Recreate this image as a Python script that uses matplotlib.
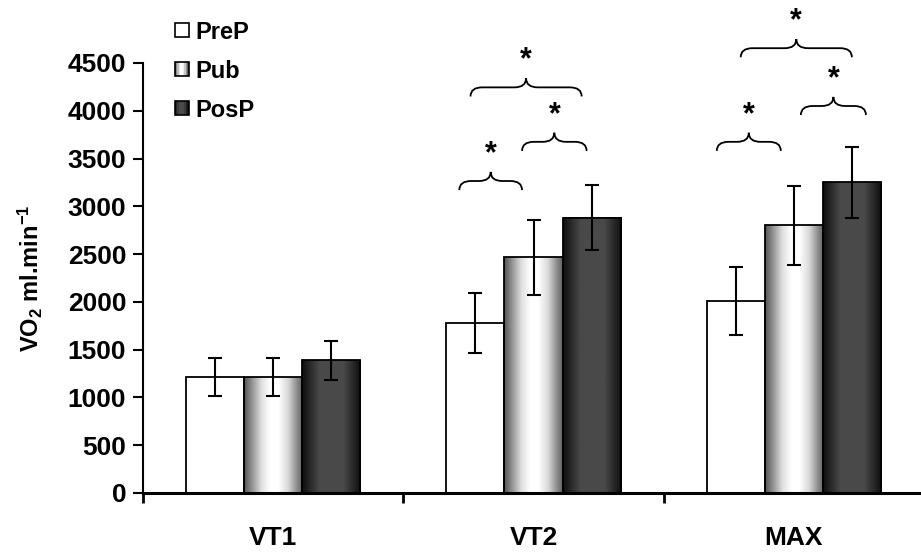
import numpy as np
import matplotlib
matplotlib.use("Agg")
import matplotlib.pyplot as plt
from matplotlib.path import Path
from matplotlib.patches import PathPatch, Rectangle
from matplotlib.legend_handler import HandlerBase

plt.rcParams['font.family'] = ['Liberation Sans', 'DejaVu Sans']
plt.rcParams['font.weight'] = 'bold'
plt.rcParams['mathtext.fontset'] = 'custom'
plt.rcParams['mathtext.rm'] = 'Liberation Sans:bold'
plt.rcParams['mathtext.bf'] = 'Liberation Sans:bold'
plt.rcParams['mathtext.default'] = 'bf'

# data
categories = ['VT1', 'VT2', 'MAX']
groups = ['PreP', 'Pub', 'PosP']
prep = [1210, 1780, 2010]
prep_err = [200, 315, 355]
pub = [1210, 2465, 2800]
pub_err = [200, 395, 410]
posp = [1390, 2880, 3250]
posp_err = [205, 340, 373]

# significance braces: (category index, left offset, right offset, base level)
brace_cat = [1, 1, 1, 2, 2, 2]
brace_left = [-0.285, -0.044, -0.242, -0.296, 0.027, -0.204]
brace_right = [-0.044, 0.204, 0.185, -0.05, 0.277, 0.223]
brace_level = [3170, 3580, 4150, 3580, 3955, 4560]


def profile(kind, n=200):
    t = np.linspace(0, 1, n)
    if kind == 'Pub':
        v = np.interp(t, [0, 0.12, 0.3, 0.45, 0.58, 0.75, 0.9, 1], [0.33, 0.55, 0.88, 1.0, 1.0, 0.85, 0.55, 0.38])
    elif kind == 'PosP':
        v = np.interp(t, [0, 0.12, 0.3, 0.7, 0.88, 1], [0.06, 0.15, 0.29, 0.29, 0.15, 0.06])
    else:
        v = np.ones(n)
    return v


class GradHandler(HandlerBase):
    def __init__(self, kind):
        super().__init__()
        self.kind = kind

    def create_artists(self, legend, orig_handle, xdescent, ydescent, width, height, fontsize, trans):
        arts = []
        v = profile(self.kind, 10)
        side = height
        for i in range(10):
            r = Rectangle((-xdescent + i * side / 10, -ydescent), side / 10, side,
                          facecolor=str(v[i]), edgecolor='none', transform=trans)
            arts.append(r)
        arts.append(Rectangle((-xdescent, -ydescent), side, side, facecolor='none',
                              edgecolor='black', lw=1.2, transform=trans))
        return arts


def brace(ax, x0, x1, y, h=190, r=0.045):
    xm = (x0 + x1) / 2
    ym = y + h * 0.5
    verts = [(x0, y), (x0, ym), (x0 + r, ym),
             (xm - r, ym), (xm, ym), (xm, y + h),
             (xm, ym), (xm + r, ym),
             (x1 - r, ym), (x1, ym), (x1, y)]
    codes = [Path.MOVETO, Path.CURVE3, Path.CURVE3,
             Path.LINETO, Path.CURVE3, Path.CURVE3,
             Path.CURVE3, Path.CURVE3,
             Path.LINETO, Path.CURVE3, Path.CURVE3]
    ax.add_patch(PathPatch(Path(verts, codes), facecolor='none', edgecolor='black',
                           lw=1.3, clip_on=False))
    ax.text(xm, y + h + 185, '*', ha='center', va='center', fontsize=22,
            fontweight='bold', clip_on=False)


fig = plt.figure(figsize=(9.21, 5.52), dpi=100)
ax = fig.add_axes([143 / 921, 59 / 552, 781 / 921, 430 / 552])

x = np.arange(len(categories))
w = 0.223
series = [prep, pub, posp]
errs = [prep_err, pub_err, posp_err]
for k, (vals, ee) in enumerate(zip(series, errs)):
    pos = x + (k - 1) * w
    kind = groups[k]
    for xi, v in zip(pos, vals):
        x0, x1 = xi - w / 2, xi + w / 2
        if kind != 'PreP':
            img = profile(kind)[None, :]
            ax.imshow(img, extent=(x0, x1, 0, v), aspect='auto', cmap='gray',
                      vmin=0, vmax=1, interpolation='bilinear', zorder=1)
            ax.bar(xi, v, w, facecolor='none', edgecolor='black', lw=1.3, zorder=2)
        else:
            ax.bar(xi, v, w, facecolor='white', edgecolor='black', lw=1.3, zorder=2)
    ax.errorbar(pos, vals, yerr=ee, fmt='none', ecolor='black', elinewidth=1.5,
                capsize=5, capthick=1.5, zorder=3)

for c, l, r, lev in zip(brace_cat, brace_left, brace_right, brace_level):
    brace(ax, c + l, c + r, lev)

ax.set_xlim(-0.5, 2.5)
ax.set_ylim(0, 4500)
ax.set_yticks(np.arange(0, 4501, 500))
ax.tick_params(axis='y', labelsize=19, direction='out', length=7, width=1.5, pad=5)
ax.set_xticks(x)
ax.set_xticklabels(categories, fontsize=19, fontweight='bold')
ax.tick_params(axis='x', which='major', length=0, pad=24)
ax.set_xticks([-0.5, 0.5, 1.5, 2.5], minor=True)
ax.tick_params(axis='x', which='minor', direction='out', length=7, width=2)
for lab in ax.get_yticklabels():
    lab.set_fontweight('bold')
ax.spines['top'].set_visible(False)
ax.spines['right'].set_visible(False)
ax.spines['left'].set_linewidth(1.5)
ax.spines['bottom'].set_linewidth(2.2)
ax.set_ylabel(r'VO$_2$ ml.min$^{-1}$', fontsize=17, fontweight='bold', labelpad=16)

handles = [Rectangle((0, 0), 1, 1) for _ in groups]
ax.legend(handles, groups, handler_map={h: GradHandler(g) for h, g in zip(handles, groups)},
          loc='upper left', bbox_to_anchor=(158 / 921, 1 - 4 / 552), bbox_transform=fig.transFigure,
          frameon=False, handlelength=0.55, handleheight=0.55, borderpad=0.2,
          handletextpad=0.35, labelspacing=0.68, prop={'weight': 'bold', 'size': 17})

fig.savefig('out.png', dpi=100)
